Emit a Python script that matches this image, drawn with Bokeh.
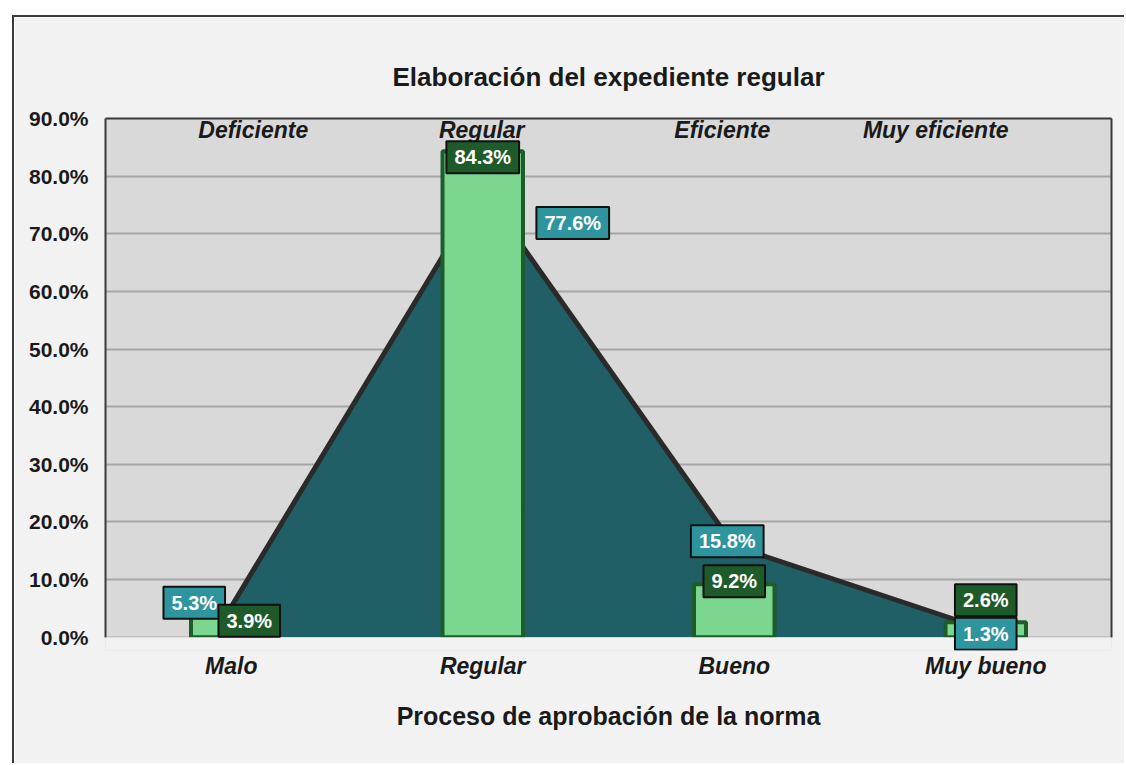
from bokeh.plotting import figure
from bokeh.models import (FactorRange, Range1d, FixedTicker, PrintfTickFormatter,
                          ColumnDataSource, LinearAxis, CategoricalAxis, Label,
                          BoxAnnotation)
from bokeh.core.properties import value
from bokeh.embed import file_html
from bokeh.resources import INLINE

categories = ["Malo", "Regular", "Bueno", "Muy bueno"]
top_labels = ["Deficiente", "Regular", "Eficiente", "Muy eficiente"]
area_values = [5.3, 77.6, 15.8, 1.3]
bar_values = [3.9, 84.3, 9.2, 2.6]
y_ticks = [0, 10, 20, 30, 40, 50, 60, 70, 80, 90]

FONT = "Liberation Sans"

# label placement (pixel offsets, style only; +y is down)
area_dx = [-37, 90, -7, 0]
area_dy = [-4, 33, -5, 4]
bar_dx = [18, 0, 0, 0]
bar_dy = [6, 6, -3, -22]
top_dx = [22, -1, -12, -50]

# a small strip below 0 (painted like the chart background) lets labels overhang the axis
p = figure(x_range=FactorRange(*categories, range_padding=0),
           y_range=Range1d(-2.3, 90),
           width=1112, height=748,
           output_backend="svg", toolbar_location=None,
           min_border_left=91, min_border_right=15,
           min_border_top=101, min_border_bottom=115,
           background_fill_color="#d9d9d9", border_fill_color="#f2f2f2",
           outline_line_color=None,
           title="Elaboración del expediente regular",
           margin=(15, 0, 0, 12),
           styles={"border-left": "2px solid #3a3a3a", "border-top": "2px solid #3a3a3a"})

p.title.align = "center"
p.title.vertical_align = "top"
p.title.text_font = FONT
p.title.text_font_size = "26px"
p.title.text_font_style = "bold"
p.title.text_color = "#1a1a1a"
p.title.standoff = 37

# grid
p.xgrid.grid_line_color = None
p.ygrid.grid_line_color = "#a6a6a6"
p.ygrid.grid_line_width = 2
p.ygrid.ticker = FixedTicker(ticks=y_ticks)

# y axis
p.yaxis.ticker = FixedTicker(ticks=y_ticks)
p.yaxis.bounds = (0, 90)
p.yaxis.formatter = PrintfTickFormatter(format="%.1f%%")
p.yaxis.major_label_text_font = FONT
p.yaxis.major_label_text_font_size = "21px"
p.yaxis.major_label_text_font_style = "bold"
p.yaxis.major_label_text_color = "#1a1a1a"
p.yaxis.major_tick_line_color = None
p.yaxis.minor_tick_line_color = None
p.yaxis.major_label_standoff = 11
p.yaxis.axis_line_color = "#3a3a3a"
p.yaxis.axis_line_width = 2

# x axis
p.xaxis.axis_line_color = None
p.xaxis.major_tick_line_color = None
p.xaxis.major_label_text_font = FONT
p.xaxis.major_label_text_font_size = "23px"
p.xaxis.major_label_text_font_style = "bold italic"
p.xaxis.major_label_text_color = "#1a1a1a"
p.xaxis.major_label_standoff = -4
p.xaxis.axis_label = "Proceso de aprobación de la norma"
p.xaxis.axis_label_text_font = FONT
p.xaxis.axis_label_text_font_size = "25px"
p.xaxis.axis_label_text_font_style = "bold"
p.xaxis.axis_label_text_color = "#1a1a1a"
p.xaxis.axis_label_standoff = 20

# frame borders right and top
ra = LinearAxis(ticker=FixedTicker(ticks=[]), bounds=(0, 90),
                major_label_text_font_size="0px",
                major_tick_line_color=None, minor_tick_line_color=None,
                axis_line_color="#3a3a3a", axis_line_width=2)
p.add_layout(ra, "right")
ta = CategoricalAxis(major_label_text_font_size="0px", major_label_text_color=None,
                     major_tick_line_color=None, minor_tick_line_color=None,
                     axis_line_color="#3a3a3a", axis_line_width=2)
p.add_layout(ta, "above")

src = ColumnDataSource(dict(cat=categories, area=area_values, bar=bar_values,
                            top=top_labels, ytop=[90] * 4, tdx=top_dx))

# area series
p.varea(x="cat", y1=0, y2="area", source=src, fill_color="#215f66")
p.line(x="cat", y="area", source=src, line_color="#2a2a2a", line_width=5,
       line_join="round")

# bars
p.vbar(x="cat", top="bar", width=0.32, source=src, fill_color="#7bd68f",
       line_color="#1d5c2b", line_width=4)

# strip below the zero line, same colour as the chart background
p.add_layout(BoxAnnotation(top=0, fill_color="#f2f2f2", fill_alpha=1.0,
                           line_color=None))

# top category labels
p.text(x="cat", y="ytop", text="top", source=src, x_offset="tdx", y_offset=11,
       text_align="center", text_baseline="middle", text_font=value(FONT),
       text_font_size="23px", text_font_style="bold italic", text_color="#1a1a1a")


def add_value_labels(vals, dxs, dys, fill):
    # categorical factors map to synthetic coordinates i + 0.5 on the x range
    for i, (v, dx, dy) in enumerate(zip(vals, dxs, dys)):
        p.add_layout(Label(x=i + 0.5, y=v, text=f"{v:.1f}%", x_offset=dx, y_offset=-dy,
                           text_align="center", text_baseline="middle",
                           text_font=FONT, text_font_size="20px",
                           text_font_style="bold", text_color="white",
                           background_fill_color=fill, border_line_color="#111111",
                           border_line_width=2, padding=(8, 5)))


add_value_labels(area_values, area_dx, area_dy, "#2e949e")
add_value_labels(bar_values, bar_dx, bar_dy, "#1e5a2a")

open("out.html", "w").write(file_html(p, INLINE))
